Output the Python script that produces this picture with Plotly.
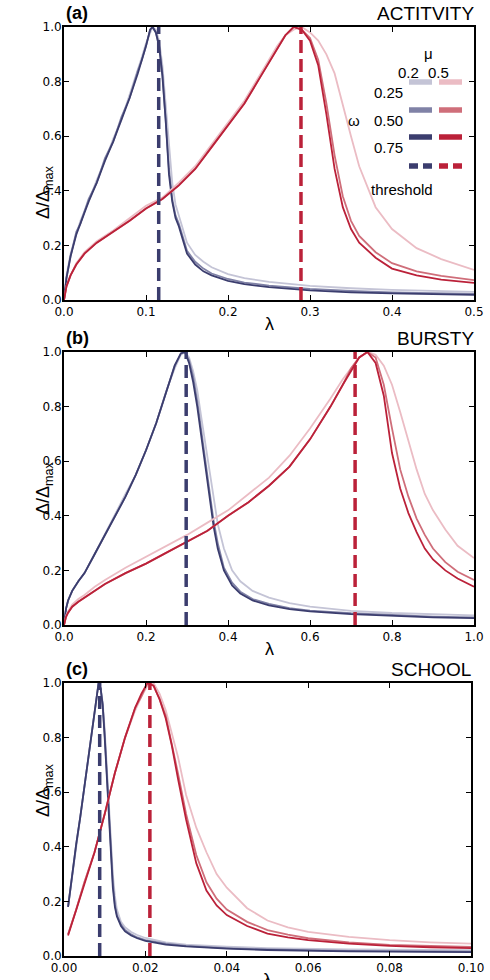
import plotly.graph_objects as go

# ---------------- data ----------------
# panel (a) ACTITVITY
xa_blue = [0, 0.003, 0.008, 0.015, 0.02, 0.03, 0.04, 0.05, 0.06, 0.07, 0.08, 0.09, 0.095, 0.1,
           0.105, 0.108, 0.112, 0.116, 0.12, 0.124, 0.128, 0.132, 0.136, 0.14, 0.145, 0.15, 0.16,
           0.17, 0.18, 0.2, 0.22, 0.25, 0.3, 0.35, 0.4, 0.45, 0.5]
ya_blue_025 = [0, 0.09, 0.17, 0.24, 0.29, 0.36, 0.44, 0.51, 0.59, 0.66, 0.75, 0.84, 0.89, 0.94,
               0.98, 1.0, 0.99, 0.95, 0.86, 0.72, 0.55, 0.43, 0.35, 0.31, 0.26, 0.21, 0.165,
               0.14, 0.12, 0.095, 0.08, 0.066, 0.052, 0.043, 0.037, 0.033, 0.03]
ya_blue_050 = [0, 0.08, 0.16, 0.25, 0.28, 0.37, 0.43, 0.52, 0.58, 0.67, 0.74, 0.84, 0.88, 0.93,
               0.99, 1.0, 0.98, 0.93, 0.83, 0.67, 0.48, 0.37, 0.31, 0.28, 0.23, 0.18, 0.14,
               0.115, 0.097, 0.077, 0.064, 0.053, 0.041, 0.033, 0.028, 0.025, 0.022]
ya_blue_075 = [0, 0.08, 0.16, 0.24, 0.28, 0.36, 0.43, 0.51, 0.58, 0.66, 0.74, 0.83, 0.88, 0.93,
               0.99, 1.0, 0.98, 0.93, 0.82, 0.66, 0.46, 0.36, 0.30, 0.27, 0.22, 0.17, 0.13,
               0.105, 0.09, 0.07, 0.058, 0.047, 0.035, 0.028, 0.024, 0.021, 0.019]

xa_red = [0, 0.003, 0.008, 0.015, 0.025, 0.04, 0.06, 0.08, 0.1, 0.12, 0.14, 0.16, 0.18, 0.2,
          0.22, 0.24, 0.25, 0.26, 0.27, 0.28, 0.29, 0.3, 0.31, 0.32, 0.33, 0.34, 0.35, 0.36,
          0.38, 0.4, 0.43, 0.46, 0.5]
ya_red_025 = [0, 0.05, 0.09, 0.135, 0.175, 0.215, 0.255, 0.30, 0.345, 0.375, 0.43, 0.49, 0.57, 0.65,
              0.73, 0.83, 0.88, 0.93, 0.97, 0.99, 1.0, 0.98, 0.95, 0.90, 0.83, 0.71, 0.60, 0.49,
              0.34, 0.26, 0.19, 0.15, 0.11]
ya_red_050 = [0, 0.05, 0.09, 0.13, 0.17, 0.21, 0.25, 0.29, 0.335, 0.37, 0.42, 0.48, 0.56, 0.64,
              0.72, 0.82, 0.87, 0.92, 0.97, 1.0, 0.99, 0.96, 0.88, 0.72, 0.53, 0.38, 0.29, 0.235,
              0.175, 0.135, 0.105, 0.088, 0.073]
ya_red_075 = [0, 0.05, 0.09, 0.13, 0.17, 0.21, 0.25, 0.29, 0.335, 0.37, 0.42, 0.48, 0.56, 0.64,
              0.72, 0.82, 0.87, 0.92, 0.97, 1.0, 0.99, 0.95, 0.86, 0.68, 0.48, 0.34, 0.26, 0.21,
              0.155, 0.115, 0.09, 0.075, 0.063]

# panel (b) BURSTY
xb_blue = [0, 0.005, 0.01, 0.02, 0.035, 0.05, 0.075, 0.1, 0.125, 0.15, 0.175, 0.2, 0.225, 0.25,
           0.27, 0.285, 0.295, 0.305, 0.315, 0.325, 0.335, 0.345, 0.355, 0.365, 0.375, 0.39,
           0.41, 0.43, 0.46, 0.5, 0.55, 0.6, 0.7, 0.8, 0.9, 1.0]
yb_blue_025 = [0, 0.06, 0.09, 0.125, 0.16, 0.19, 0.26, 0.335, 0.405, 0.48, 0.55, 0.64, 0.74, 0.86,
               0.94, 0.99, 1.0, 0.98, 0.93, 0.86, 0.76, 0.66, 0.56, 0.46, 0.37, 0.28,
               0.2, 0.16, 0.125, 0.10, 0.08, 0.067, 0.052, 0.044, 0.039, 0.035]
yb_blue_050 = [0, 0.06, 0.09, 0.125, 0.16, 0.19, 0.26, 0.33, 0.40, 0.47, 0.55, 0.64, 0.74, 0.86,
               0.95, 0.995, 1.0, 0.97, 0.91, 0.82, 0.71, 0.60, 0.49, 0.38, 0.30, 0.21,
               0.155, 0.122, 0.095, 0.077, 0.062, 0.053, 0.043, 0.036, 0.031, 0.028]
yb_blue_075 = [0, 0.06, 0.09, 0.125, 0.16, 0.19, 0.26, 0.33, 0.40, 0.47, 0.55, 0.64, 0.74, 0.86,
               0.95, 0.995, 1.0, 0.96, 0.89, 0.80, 0.69, 0.58, 0.47, 0.36, 0.28, 0.20,
               0.145, 0.115, 0.09, 0.072, 0.058, 0.05, 0.04, 0.033, 0.028, 0.025]

xb_red = [0, 0.005, 0.01, 0.02, 0.035, 0.05, 0.075, 0.1, 0.15, 0.2, 0.25, 0.3, 0.35, 0.4, 0.45,
          0.5, 0.55, 0.6, 0.65, 0.68, 0.7, 0.72, 0.74, 0.76, 0.78, 0.8, 0.82, 0.84, 0.86, 0.88,
          0.9, 0.93, 0.96, 1.0]
yb_red_025 = [0, 0.035, 0.05, 0.075, 0.095, 0.11, 0.14, 0.165, 0.21, 0.25, 0.29, 0.33, 0.375, 0.42,
              0.48, 0.54, 0.62, 0.72, 0.83, 0.90, 0.94, 0.98, 1.0, 0.99, 0.95, 0.88, 0.78, 0.67,
              0.57, 0.48, 0.42, 0.35, 0.29, 0.245]
yb_red_050 = [0, 0.03, 0.045, 0.067, 0.085, 0.10, 0.125, 0.15, 0.19, 0.225, 0.265, 0.305, 0.345, 0.40,
              0.45, 0.51, 0.58, 0.68, 0.80, 0.88, 0.94, 0.98, 1.0, 0.98, 0.88, 0.72, 0.57, 0.47,
              0.39, 0.33, 0.28, 0.23, 0.195, 0.165]
yb_red_075 = [0, 0.03, 0.045, 0.067, 0.085, 0.10, 0.125, 0.15, 0.19, 0.225, 0.265, 0.305, 0.345, 0.40,
              0.45, 0.51, 0.58, 0.68, 0.80, 0.88, 0.93, 0.98, 1.0, 0.96, 0.84, 0.63, 0.50, 0.41,
              0.34, 0.28, 0.24, 0.20, 0.17, 0.14]

# panel (c) SCHOOL
xc_blue = [0.001, 0.002, 0.003, 0.004, 0.005, 0.006, 0.007, 0.008, 0.0085, 0.009, 0.0095, 0.01,
           0.0105, 0.011, 0.0115, 0.012, 0.0125, 0.013, 0.014, 0.015, 0.0165, 0.018, 0.02, 0.025,
           0.03, 0.04, 0.05, 0.06, 0.07, 0.08, 0.09, 0.1]
yc_blue_025 = [0.18, 0.29, 0.40, 0.51, 0.62, 0.73, 0.84, 0.95, 1.0, 0.98, 0.93, 0.83,
               0.70, 0.55, 0.41, 0.30, 0.22, 0.17, 0.125, 0.105, 0.088, 0.077, 0.066, 0.05,
               0.042, 0.034, 0.029, 0.026, 0.024, 0.023, 0.022, 0.021]
yc_blue_050 = [0.18, 0.30, 0.41, 0.51, 0.62, 0.73, 0.84, 0.95, 1.0, 0.98, 0.92, 0.81,
               0.67, 0.52, 0.38, 0.27, 0.19, 0.15, 0.115, 0.095, 0.079, 0.068, 0.058, 0.045,
               0.037, 0.029, 0.024, 0.021, 0.019, 0.018, 0.017, 0.016]
yc_blue_075 = [0.18, 0.30, 0.41, 0.51, 0.62, 0.73, 0.84, 0.95, 1.0, 0.98, 0.92, 0.80,
               0.66, 0.50, 0.36, 0.25, 0.18, 0.145, 0.11, 0.09, 0.075, 0.065, 0.055, 0.042,
               0.035, 0.027, 0.022, 0.019, 0.017, 0.016, 0.015, 0.014]

xc_red = [0.001, 0.003, 0.005, 0.0075, 0.01, 0.0125, 0.015, 0.0175, 0.019, 0.0205, 0.022, 0.0235,
          0.025, 0.0265, 0.028, 0.03, 0.0325, 0.035, 0.0375, 0.04, 0.045, 0.05, 0.055, 0.06, 0.07,
          0.08, 0.09, 0.1]
yc_red_025 = [0.08, 0.17, 0.27, 0.38, 0.52, 0.67, 0.80, 0.90, 0.95, 0.99, 1.0, 0.96,
              0.90, 0.82, 0.73, 0.59, 0.47, 0.38, 0.30, 0.25, 0.175, 0.13, 0.105, 0.088, 0.07,
              0.058, 0.05, 0.045]
yc_red_050 = [0.08, 0.17, 0.27, 0.38, 0.52, 0.67, 0.80, 0.91, 0.95, 1.0, 0.99, 0.94,
              0.88, 0.78, 0.67, 0.52, 0.37, 0.27, 0.21, 0.17, 0.125, 0.095, 0.078, 0.065, 0.05,
              0.041, 0.036, 0.033]
yc_red_075 = [0.075, 0.17, 0.27, 0.38, 0.52, 0.67, 0.80, 0.91, 0.96, 1.0, 0.99, 0.94,
              0.87, 0.77, 0.65, 0.50, 0.34, 0.24, 0.185, 0.15, 0.11, 0.082, 0.068, 0.058, 0.045,
              0.037, 0.032, 0.029]

thresholds_blue = [0.1155, 0.298, 0.00877]
thresholds_red = [0.289, 0.71, 0.0211]

titles = ["ACTITVITY", "BURSTY", "SCHOOL"]
letters = ["(a)", "(b)", "(c)"]
x_ranges = [[0, 0.5], [0, 1.0], [0, 0.1]]
x_dticks = [0.1, 0.2, 0.02]
x_formats = [".1f", ".1f", ".2f"]
omegas = ["0.25", "0.50", "0.75"]

blue_colors = ["#c4c4d6", "#8082a6", "#3b3d6e"]
red_colors = ["#ebbcc4", "#cf6e7a", "#bb2139"]
thr_blue = "#3b3d6e"
thr_red = "#bb2139"

W, H = 490, 980


def px(x):
    return x / W


def py(y):
    return 1 - y / H


# panel boxes in pixels: left, right, top, bottom
boxes = [(64, 474, 27, 300), (64, 474, 352, 625), (64, 471, 683, 956)]

panels = [
    (xa_blue, [ya_blue_025, ya_blue_050, ya_blue_075], xa_red, [ya_red_025, ya_red_050, ya_red_075]),
    (xb_blue, [yb_blue_025, yb_blue_050, yb_blue_075], xb_red, [yb_red_025, yb_red_050, yb_red_075]),
    (xc_blue, [yc_blue_025, yc_blue_050, yc_blue_075], xc_red, [yc_red_025, yc_red_050, yc_red_075]),
]

fig = go.Figure()
tick_font = dict(family="DejaVu Sans", size=12, color="black")
text_font = "Liberation Sans"
annotations = []

for i, (xb, ybs, xr, yrs) in enumerate(panels):
    n = "" if i == 0 else str(i + 1)
    xa_name, ya_name = "x" + n, "y" + n
    for k in range(3):
        fig.add_trace(go.Scatter(x=xb, y=ybs[k], mode="lines", xaxis=xa_name, yaxis=ya_name,
                                 line=dict(color=blue_colors[k], width=1.8), showlegend=False))
    for k in range(3):
        fig.add_trace(go.Scatter(x=xr, y=yrs[k], mode="lines", xaxis=xa_name, yaxis=ya_name,
                                 line=dict(color=red_colors[k], width=1.8), showlegend=False))
    fig.add_trace(go.Scatter(x=[thresholds_blue[i]] * 2, y=[0, 1], mode="lines",
                             xaxis=xa_name, yaxis=ya_name, showlegend=False,
                             line=dict(color=thr_blue, width=3.5, dash="13px,6px")))
    fig.add_trace(go.Scatter(x=[thresholds_red[i]] * 2, y=[0, 1], mode="lines",
                             xaxis=xa_name, yaxis=ya_name, showlegend=False,
                             line=dict(color=thr_red, width=3.5, dash="13px,6px")))

    l, r, t, b = boxes[i]
    axis_common = dict(showline=True, linecolor="black", linewidth=2, mirror="allticks",
                       ticks="inside", ticklen=5, tickwidth=1.2, tickcolor="black",
                       showgrid=False, zeroline=False, tickfont=tick_font, automargin=False)
    fig.layout["xaxis" + n] = dict(axis_common, domain=[px(l), px(r)], range=x_ranges[i],
                                   dtick=x_dticks[i], tick0=0, tickformat=x_formats[i],
                                   anchor=ya_name)
    fig.layout["yaxis" + n] = dict(axis_common, domain=[py(b), py(t)], range=[0, 1],
                                   dtick=0.2, tick0=0, tickformat=".1f", anchor=xa_name,
                                   ticklabelstandoff=-2)

    annotations.append(dict(x=px(l), y=py(t - 2), xref="paper", yref="paper",
                            text="<b>" + letters[i] + "</b>", showarrow=False,
                            xanchor="left", yanchor="bottom",
                            font=dict(family=text_font, size=18, color="black")))
    annotations.append(dict(x=px(r + 2), y=py(t - 1), xref="paper", yref="paper",
                            text=titles[i], showarrow=False, xanchor="right", yanchor="bottom",
                            font=dict(family=text_font, size=19, color="black")))
    annotations.append(dict(x=px(31), y=py((t + b) / 2), xref="paper", yref="paper",
                            text="Δ/Δ<sub>max</sub>", showarrow=False, textangle=-90,
                            font=dict(family=text_font, size=18, color="black")))
    annotations.append(dict(x=px((l + r) / 2), y=py(b + 12), xref="paper", yref="paper",
                            text="λ", showarrow=False, yanchor="top",
                            font=dict(family=text_font, size=18, color="black")))

# hand-made legend in panel (a)
leg_font = dict(family=text_font, size=15, color="black")
annotations.append(dict(x=px(435), y=py(43), xref="paper", yref="paper", text="μ",
                        showarrow=False, font=leg_font))
annotations.append(dict(x=px(421), y=py(62), xref="paper", yref="paper", text="0.2",
                        showarrow=False, font=leg_font))
annotations.append(dict(x=px(451), y=py(62), xref="paper", yref="paper", text="0.5",
                        showarrow=False, font=leg_font))
annotations.append(dict(x=px(362), y=py(110), xref="paper", yref="paper", text="ω",
                        showarrow=False, font=leg_font))
annotations.append(dict(x=px(435), y=py(179), xref="paper", yref="paper", text="threshold",
                        showarrow=False, font=leg_font))

shapes = []
row_y = [82, 110, 137]
for k in range(3):
    annotations.append(dict(x=px(405), y=py(row_y[k]), xref="paper", yref="paper",
                            text=omegas[k], showarrow=False, xanchor="right", font=leg_font))
    shapes.append(dict(type="line", xref="paper", yref="paper", x0=px(409), x1=px(432),
                       y0=py(row_y[k]), y1=py(row_y[k]),
                       line=dict(color=blue_colors[k], width=5.5)))
    shapes.append(dict(type="line", xref="paper", yref="paper", x0=px(439), x1=px(462),
                       y0=py(row_y[k]), y1=py(row_y[k]),
                       line=dict(color=red_colors[k], width=5.5)))
for a, c in [(409, thr_blue), (423, thr_blue), (439, thr_red), (453, thr_red)]:
    shapes.append(dict(type="line", xref="paper", yref="paper", x0=px(a), x1=px(a + 9),
                       y0=py(166), y1=py(166), line=dict(color=c, width=5.5)))

fig.update_layout(width=W, height=H, margin=dict(l=0, r=0, t=0, b=0, autoexpand=False),
                  plot_bgcolor="white", paper_bgcolor="white",
                  annotations=annotations, shapes=shapes)

# the page body has a default 8px margin; drop it so the figure fills the window
fig.write_html("out.html", config={"displayModeBar": False},
               post_script="document.body.style.margin='0px';")
